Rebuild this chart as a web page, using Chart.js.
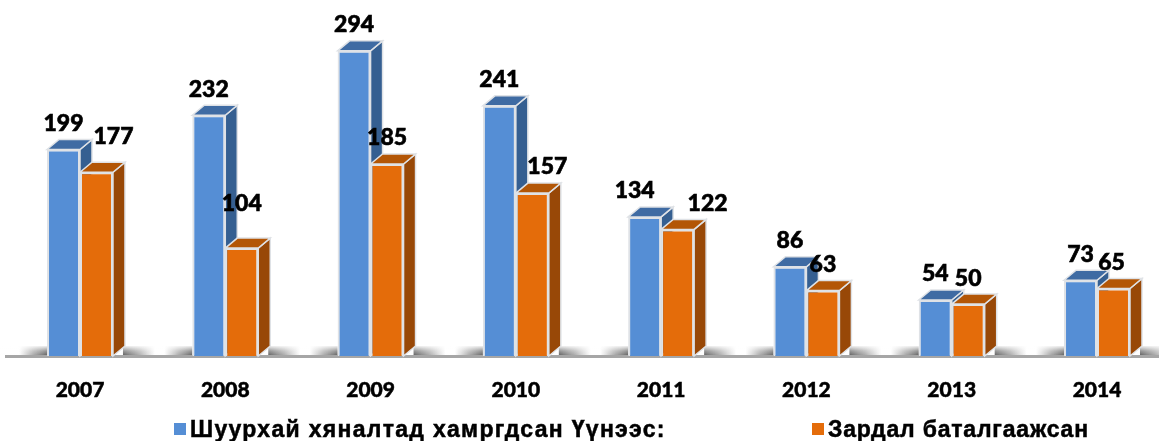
<!DOCTYPE html>
<html>
<head>
<meta charset="utf-8">
<script src="https://cdn.jsdelivr.net/npm/chart.js@4"></script>
<style>
body { margin: 0; background: #fff; }
#wrap { position: relative; width: 1159px; height: 441px; overflow: hidden; }
#wrap canvas { display: block; }
.leg { position: absolute; top: 416px; font: bold 23px "Liberation Sans", Arial, sans-serif; color: #000; white-space: nowrap; -webkit-text-stroke: 0.5px #000; }
.leg i { position: absolute; left: -16px; top: 7px; width: 12px; height: 12px; }
#leg0 { left: 190px; letter-spacing: 1.3px; }
#leg1 { left: 828px; letter-spacing: 0.8px; }
</style>
</head>
<body>
<div id="wrap">
<canvas id="grafico" width="1170" height="441"></canvas>
<div class="leg" id="leg0"><i></i></div>
<div class="leg" id="leg1"><i></i></div>
</div>
<script>
// Dados
var years = ['2007', '2008', '2009', '2010', '2011', '2012', '2013', '2014'];
var covered = [199, 232, 294, 241, 134, 86, 54, 73];
var confirmed = [177, 104, 185, 157, 122, 63, 50, 65];
var seriesNames = ['Шуурхай хяналтад хамргдсан Үүнээс:', 'Зардал баталгаажсан'];

// Deslocamento manual dos rotulos [dx, dy]
var coveredNudge = [[0, 0], [0, 0], [0, 0], [0, 0], [-10, 0], [0, 0], [0, 0], [0, 0]];
var confirmedNudge = [[17, -10], [0, -18], [0, 0], [15, 0], [30, 0], [0, 0], [0, 0], [-2, 0]];

var DX = 12, DY = -10;
var faces = [
    { front: '#558ed5', top: '#3f6ba3', side: '#355f91' },
    { front: '#e46c0a', top: '#b35606', side: '#984807' }
];
var edge = '#dfe2e6';

var poly = function(ctx, pts, fill) {
    ctx.beginPath();
    ctx.moveTo(pts[0][0], pts[0][1]);
    for (var i = 1; i < pts.length; i++) ctx.lineTo(pts[i][0], pts[i][1]);
    ctx.closePath();
    ctx.fillStyle = fill;
    ctx.fill();
    ctx.lineWidth = 1.5;
    ctx.strokeStyle = edge;
    ctx.stroke();
}

// Sombra no chao ao lado de uma barra
var shadow = function(ctx, from, to, base) {
    var g = ctx.createLinearGradient(from, 0, to, 0);
    g.addColorStop(0, 'rgba(90,90,90,1)');
    g.addColorStop(0.5, 'rgba(110,110,110,0.6)');
    g.addColorStop(1, 'rgba(120,120,120,0)');
    ctx.fillStyle = g;
    ctx.fillRect(Math.min(from, to), base - 10, Math.abs(to - from), 10);
}

// Chao, sombras e faces laterais
var depthPlugin = {
    id: 'depth',
    beforeDatasetsDraw: function(chart) {
        var ctx = chart.ctx;
        var base = chart.scales.y.getPixelForValue(0);
        var first = chart.getDatasetMeta(0).data;
        var second = chart.getDatasetMeta(1).data;

        ctx.save();
        for (var i = 0; i < first.length; i++) {
            var left = first[i].x - first[i].width / 2;
            var right = second[i].x + second[i].width / 2;
            shadow(ctx, left, left - 28, base);
            shadow(ctx, right + DX - 2, right + DX + 30, base);
        }

        // clareia a sombra para cima
        var fade = ctx.createLinearGradient(0, base - 10, 0, base);
        fade.addColorStop(0, 'rgba(255,255,255,0.9)');
        fade.addColorStop(0.5, 'rgba(255,255,255,0.35)');
        fade.addColorStop(1, 'rgba(255,255,255,0)');
        ctx.fillStyle = fade;
        ctx.fillRect(0, base - 10, chart.width, 10);

        ctx.fillStyle = '#a6a6a6';
        ctx.fillRect(5, base - 1, chart.width - 5, 3);

        [first, second].forEach(function(bars, d) {
            bars.forEach(function(bar) {
                var x0 = bar.x - bar.width / 2;
                var x1 = bar.x + bar.width / 2;
                var y = bar.y;
                poly(ctx, [[x1, y], [x1 + DX, y + DY], [x1 + DX, base + DY], [x1, base]], faces[d].side);
                poly(ctx, [[x0, y], [x0 + DX, y + DY], [x1 + DX, y + DY], [x1, y]], faces[d].top);
            });
        });
        ctx.restore();
    },
    afterDatasetsDraw: function(chart) {
        var ctx = chart.ctx;
        var nudges = [coveredNudge, confirmedNudge];
        ctx.save();
        ctx.font = '900 23px Lato, sans-serif';
        ctx.fillStyle = '#000';
        ctx.strokeStyle = '#000';
        ctx.lineWidth = 0.6;
        ctx.textAlign = 'center';
        ctx.textBaseline = 'middle';
        chart.data.datasets.forEach(function(ds, d) {
            chart.getDatasetMeta(d).data.forEach(function(bar, i) {
                var n = nudges[d][i];
                ctx.fillText(ds.data[i], bar.x + n[0], bar.y - 26 + n[1]);
                ctx.strokeText(ds.data[i], bar.x + n[0], bar.y - 26 + n[1]);
            });
        });
        ctx.restore();
    }
};

var context = document.getElementById('grafico').getContext('2d');
var chart = new Chart(context, {
    type: 'bar',
    data: {
        labels: years,
        datasets: [
            { label: seriesNames[0], data: covered, backgroundColor: faces[0].front, borderColor: edge, borderWidth: 2 },
            { label: seriesNames[1], data: confirmed, backgroundColor: faces[1].front, borderColor: edge, borderWidth: 2 }
        ]
    },
    options: {
        responsive: false,
        animation: false,
        layout: { padding: { left: 7.35, right: 0.35, top: 0, bottom: 0 } },
        categoryPercentage: 0.454,
        barPercentage: 1,
        plugins: { legend: { display: false }, tooltip: { enabled: false } },
        scales: {
            x: {
                grid: { display: false },
                border: { display: false },
                afterFit: function(scale) { scale.height = 85; },
                ticks: {
                    color: '#000',
                    padding: 14,
                    maxRotation: 0,
                    textStrokeColor: '#000',
                    textStrokeWidth: 0.5,
                    font: { family: 'Lato', weight: '900', size: 21 }
                }
            },
            y: { display: false, min: 0, max: 343 }
        }
    },
    plugins: [depthPlugin]
});

// Legenda
seriesNames.forEach(function(name, d) {
    var el = document.getElementById('leg' + d);
    el.appendChild(document.createTextNode(name));
    el.querySelector('i').style.background = faces[d].front;
});
</script>
</body>
</html>
